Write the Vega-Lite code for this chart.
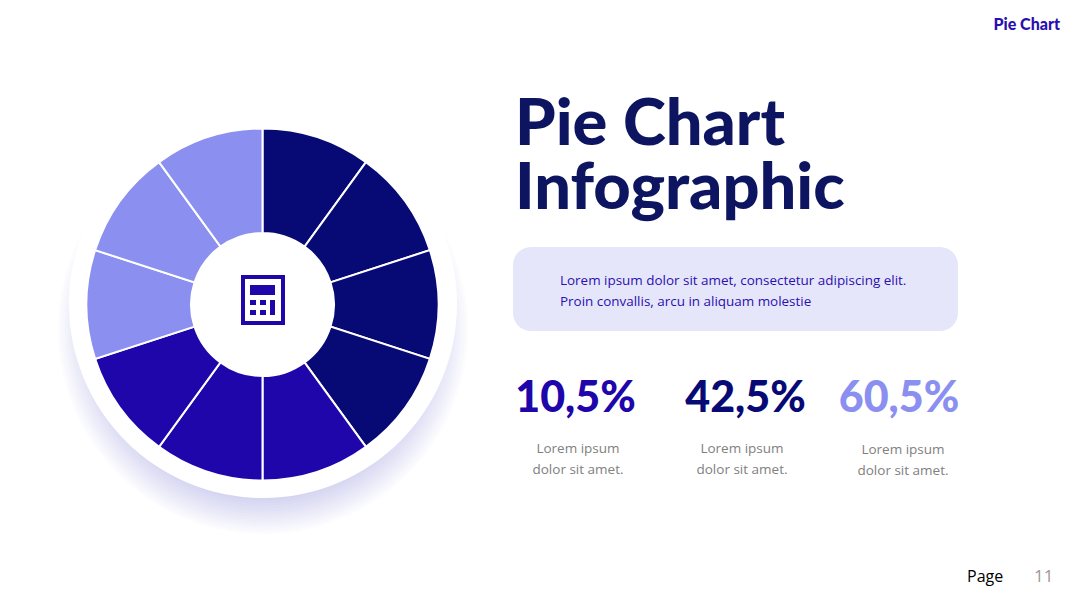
{
"$schema":"https://vega.github.io/schema/vega-lite/v6.json",
"width":1080,"height":608,"padding":0,
"autosize":{"type":"fit","contains":"padding"},
"background":"#ffffff",
"config":{"view":{"stroke":null}},
"layer":[
{"data":{"values":[{"ring":1},{"ring":2},{"ring":3},{"ring":4},{"ring":5},{"ring":6},{"ring":7},{"ring":8},{"ring":9},{"ring":10},{"ring":11},{"ring":12},{"ring":13},{"ring":14},{"ring":15},{"ring":16}]},
 "mark":{"type":"point","filled":true,"shape":"circle","color":"#4a4ac8","opacity":0.014,"strokeWidth":0},
 "encoding":{"x":{"value":263},"y":{"value":329},
  "size":{"field":"ring","type":"quantitative","legend":null,"scale":{"type":"linear","domain":[1,16],"range":[168100,110000]}}}},
{"data":{"values":[{"d":"disc"}]},"mark":{"type":"point","filled":true,"shape":"circle","color":"#ffffff","opacity":1,"strokeWidth":0},
 "encoding":{"x":{"value":263},"y":{"value":304},"size":{"value":150544}}},
{"data":{"values":[
 {"slice":1,"group":"a","value":10},{"slice":2,"group":"a","value":10},{"slice":3,"group":"a","value":10},{"slice":4,"group":"a","value":10},
 {"slice":5,"group":"b","value":10},{"slice":6,"group":"b","value":10},{"slice":7,"group":"b","value":10},
 {"slice":8,"group":"c","value":10},{"slice":9,"group":"c","value":10},{"slice":10,"group":"c","value":10}]},
 "mark":{"type":"arc","radius":176,"radius2":71.5,"stroke":"#ffffff","strokeWidth":2},
 "encoding":{"x":{"value":262.5},"y":{"value":304.5},
  "theta":{"field":"value","type":"quantitative","stack":true},
  "order":{"field":"slice","type":"quantitative"},
  "color":{"field":"group","type":"nominal","legend":null,"scale":{"domain":["a","b","c"],"range":["#070A74","#1E06AB","#8A8FF0"]}}}},
{"data":{"values":[{"icon":"calculator"}]},
 "mark":{"type":"point","filled":true,"opacity":1,"strokeWidth":0,"color":"#1E06AB",
  "shape":"M-22-25H22V25H-22ZM-18-21V21H18V-21ZM-13-15H12V-5H-13ZM-13 0H-7V5H-13ZM-3 0H3V5H-3ZM7 0H12V15H7ZM-13 10H-7V15H-13ZM-3 10H3V15H-3Z"},
 "encoding":{"x":{"value":263},"y":{"value":300},"size":{"value":4}}},
{"data":{"values":[{"t":"Pie Chart"}]},"mark":{"type":"text","font":"Lato","fontWeight":900,"fontSize":16,"align":"right","baseline":"alphabetic","color":"#2A0FB0"},
 "encoding":{"x":{"value":1060},"y":{"value":30},"text":{"field":"t"}}},
{"data":{"values":[{"t":"Pie Chart\nInfographic"}]},"mark":{"type":"text","font":"Lato","fontWeight":900,"fontSize":65,"lineBreak":"\n","lineHeight":64,"align":"left","baseline":"alphabetic","color":"#0D1560"},
 "encoding":{"x":{"value":515},"y":{"value":145},"text":{"field":"t"}}},
{"data":{"values":[{"box":"summary"}]},"mark":{"type":"rect","cornerRadius":18,"color":"#E6E6FA"},
 "encoding":{"x":{"value":513},"x2":{"value":958},"y":{"value":247},"y2":{"value":331}}},
{"data":{"values":[{"t":"Lorem ipsum dolor sit amet, consectetur adipiscing elit.\nProin convallis, arcu in aliquam molestie"}]},"mark":{"type":"text","font":"Open Sans","fontSize":13.45,"lineBreak":"\n","lineHeight":21,"align":"left","baseline":"alphabetic","color":"#2A0FB0"},
 "encoding":{"x":{"value":560},"y":{"value":285},"text":{"field":"t"}}},
{"data":{"values":[{"t":"10,5%"}]},"mark":{"type":"text","font":"Lato","fontWeight":900,"fontSize":43,"align":"center","baseline":"alphabetic","color":"#1E06AB"},
 "encoding":{"x":{"value":575.5},"y":{"value":412},"text":{"field":"t"}}},
{"data":{"values":[{"t":"42,5%"}]},"mark":{"type":"text","font":"Lato","fontWeight":900,"fontSize":43,"align":"center","baseline":"alphabetic","color":"#070A74"},
 "encoding":{"x":{"value":745.5},"y":{"value":412},"text":{"field":"t"}}},
{"data":{"values":[{"t":"60,5%"}]},"mark":{"type":"text","font":"Lato","fontWeight":900,"fontSize":43,"align":"center","baseline":"alphabetic","color":"#8A8FF0"},
 "encoding":{"x":{"value":899},"y":{"value":412},"text":{"field":"t"}}},
{"data":{"values":[{"t":"Lorem ipsum\ndolor sit amet."}]},"mark":{"type":"text","font":"Open Sans","fontSize":13.5,"lineBreak":"\n","lineHeight":21,"align":"center","baseline":"alphabetic","color":"#808080"},
 "encoding":{"x":{"value":578},"y":{"value":453},"text":{"field":"t"}}},
{"data":{"values":[{"t":"Lorem ipsum\ndolor sit amet."}]},"mark":{"type":"text","font":"Open Sans","fontSize":13.5,"lineBreak":"\n","lineHeight":21,"align":"center","baseline":"alphabetic","color":"#808080"},
 "encoding":{"x":{"value":742},"y":{"value":453},"text":{"field":"t"}}},
{"data":{"values":[{"t":"Lorem ipsum\ndolor sit amet."}]},"mark":{"type":"text","font":"Open Sans","fontSize":13.5,"lineBreak":"\n","lineHeight":21,"align":"center","baseline":"alphabetic","color":"#808080"},
 "encoding":{"x":{"value":903},"y":{"value":454},"text":{"field":"t"}}},
{"data":{"values":[{"t":"Page"}]},"mark":{"type":"text","font":"Open Sans","fontSize":16,"align":"left","baseline":"alphabetic","color":"#000000"},
 "encoding":{"x":{"value":967},"y":{"value":582},"text":{"field":"t"}}},
{"data":{"values":[{"t":"11"}]},"mark":{"type":"text","font":"Open Sans","fontSize":17,"align":"left","baseline":"alphabetic","color":"#999999"},
 "encoding":{"x":{"value":1034},"y":{"value":582},"text":{"field":"t"}}}
]
}
